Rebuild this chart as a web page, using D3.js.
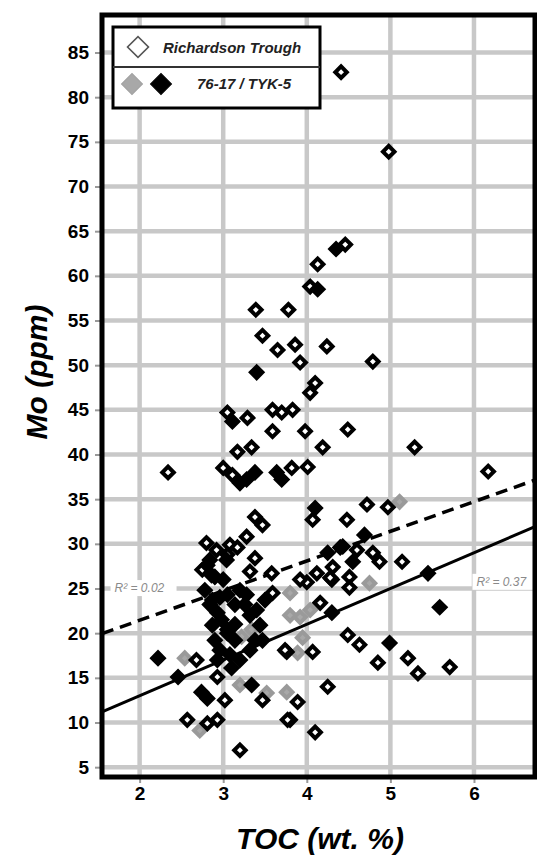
<!DOCTYPE html>
<html>
<head>
<meta charset="utf-8">
<script src="https://cdn.jsdelivr.net/npm/d3@7"></script>
<style>
body { margin: 0; background: #fff; }
svg text { font-family: "Liberation Sans", Arial, sans-serif; }
</style>
</head>
<body>
<div id="chart"></div>
<script>
// Tick values
var xTicks = [2, 3, 4, 5, 6];
var yTicks = [5, 10, 15, 20, 25, 30, 35, 40, 45, 50, 55, 60, 65, 70, 75, 80, 85];

// Richardson Trough (open diamonds) [TOC, Mo]
var richardson = [
  [4.41, 82.8], [4.98, 73.9], [4.46, 63.5], [4.13, 61.3], [4.04, 58.8], [3.39, 56.2], [3.78, 56.2],
  [3.47, 53.3], [3.65, 51.7], [3.86, 52.3], [3.92, 50.3], [4.24, 52.1], [4.79, 50.4], [4.10, 48.0],
  [4.04, 46.9], [3.05, 44.7], [3.29, 44.1], [3.59, 45.0], [3.70, 44.7], [3.83, 45.0], [3.59, 42.6],
  [3.98, 42.6], [4.19, 40.8], [4.49, 42.8], [5.29, 40.8], [3.17, 40.3], [3.34, 40.8], [2.34, 38.0],
  [3.00, 38.5], [3.11, 37.7], [3.82, 38.5], [4.01, 38.6], [6.17, 38.1], [3.38, 33.0], [3.47, 32.1],
  [4.07, 32.7], [4.48, 32.7], [4.72, 34.4], [4.97, 34.1], [3.28, 30.8], [4.40, 29.6], [4.79, 29.0],
  [4.60, 29.3], [4.87, 28.0], [5.14, 28.0], [4.30, 26.0], [4.51, 26.3], [4.51, 25.1], [4.00, 25.7],
  [4.16, 23.4], [4.49, 19.8], [4.63, 18.7], [4.85, 16.7], [5.21, 17.2], [5.33, 15.5], [5.71, 16.2],
  [4.07, 17.9], [3.76, 17.9], [4.25, 14.0], [3.89, 12.3], [3.80, 10.3], [4.10, 8.9], [2.68, 17.0],
  [2.57, 10.3], [2.93, 15.1], [3.02, 12.5], [2.93, 10.3], [2.81, 9.9], [3.20, 6.9], [3.47, 12.5],
  [3.77, 10.3], [3.59, 24.5], [3.58, 26.7], [3.92, 26.0], [3.74, 18.1], [4.28, 26.2], [4.31, 27.4],
  [4.12, 26.7], [2.90, 26.3], [2.75, 27.1], [2.80, 30.1], [2.92, 29.3], [3.08, 29.9], [3.05, 28.8],
  [3.17, 29.6], [3.38, 28.4], [3.32, 26.9]
];

// 76-17 (grey diamonds) [TOC, Mo]
var well7617 = [
  [5.11, 34.7], [4.75, 25.6], [4.04, 22.6], [3.95, 19.5], [3.89, 17.8], [3.76, 13.4], [2.54, 17.2],
  [2.72, 9.1], [3.20, 14.2], [3.52, 13.3], [3.34, 20.4], [3.22, 19.6], [3.80, 24.5], [3.80, 22.0],
  [3.92, 21.8]
];

// TYK-5 (black diamonds) [TOC, Mo]
var tyk5 = [
  [4.35, 63.0], [4.13, 58.5], [3.40, 49.2], [3.20, 36.8], [3.28, 37.2], [3.38, 38.0], [3.64, 38.0],
  [3.70, 37.2], [4.10, 34.0], [4.69, 31.0], [4.43, 29.7], [4.25, 29.0], [4.55, 28.0], [5.45, 26.7],
  [5.59, 22.9], [4.30, 22.3], [4.99, 18.9], [2.22, 17.2], [2.46, 15.1], [2.74, 13.4], [2.81, 12.7],
  [3.34, 14.2], [2.87, 23.7], [2.93, 22.3], [2.87, 20.9], [2.90, 19.2], [2.96, 18.1], [3.08, 17.6],
  [3.20, 17.0], [3.32, 18.1], [3.14, 19.2], [3.20, 24.8], [3.26, 23.2], [3.32, 22.0], [3.40, 22.6],
  [3.47, 19.2], [3.11, 43.7], [3.04, 28.2], [2.84, 28.2], [3.00, 26.0], [3.14, 21.0], [3.05, 20.0],
  [2.96, 24.0], [2.81, 27.6], [2.86, 26.5], [2.78, 24.8], [2.84, 23.2], [2.98, 21.5], [3.05, 20.4],
  [2.93, 17.0], [3.10, 16.1], [3.38, 19.2], [3.44, 20.9], [3.50, 23.7], [3.28, 24.3], [3.14, 23.2],
  [3.05, 24.3]
];

// Regression fits: [slope, intercept, label]
var fitAll = [3.32, 14.8, "R\u00b2 = 0.02"];
var fitTyk = [4.0, 5.0, "R\u00b2 = 0.37"];

var svg = d3.select("#chart")
    .append("svg")
    .attr("width", 537)
    .attr("height", 859);

var xScale = d3.scaleLinear().domain([1.55, 6.73]).range([102, 535]);
var yScale = d3.scaleLinear().domain([3.9, 89.2]).range([777, 15]);

svg.append("clipPath").attr("id", "plotclip")
    .append("rect")
    .attr("x", 102).attr("y", 15).attr("width", 433).attr("height", 762);

// grid
svg.append("g").selectAll("line")
    .data(yTicks).enter().append("line")
    .attr("x1", xScale.range()[0]).attr("x2", xScale.range()[1])
    .attr("y1", d => yScale(d)).attr("y2", d => yScale(d))
    .style("stroke", "#c8c8c8").style("stroke-width", 4.5);
svg.append("g").selectAll("line")
    .data(xTicks).enter().append("line")
    .attr("y1", yScale.range()[0]).attr("y2", yScale.range()[1])
    .attr("x1", d => xScale(d)).attr("x2", d => xScale(d))
    .style("stroke", "#c8c8c8").style("stroke-width", 4.5);

// axes
var yAxis = d3.axisLeft(yScale).tickValues(yTicks).tickSize(7).tickPadding(6)
    .tickFormat(d3.format("d"));
var xAxis = d3.axisBottom(xScale).tickValues(xTicks).tickSize(6).tickPadding(4)
    .tickFormat(d3.format("d"));

var gy = svg.append("g").attr("transform", "translate(102,0)").call(yAxis);
var gx = svg.append("g").attr("transform", "translate(0,777)").call(xAxis);
[gy, gx].forEach(function(g) {
    g.select(".domain").remove();
    g.selectAll(".tick line").style("stroke", "#999").style("stroke-width", 2);
    g.selectAll(".tick text")
        .style("font-size", "19px").style("font-weight", "900").style("fill", "#000");
});

// regression lines
var line = d3.line().x(d => xScale(d[0])).y(d => yScale(d[1]));
function fitPts(f) {
    return xScale.domain().map(x => [x, f[0] * x + f[1]]);
}
var gl = svg.append("g").attr("clip-path", "url(#plotclip)");
gl.append("path").attr("d", line(fitPts(fitAll)))
    .style("fill", "none").style("stroke", "#000").style("stroke-width", 3.5)
    .style("stroke-dasharray", "12,7");
gl.append("path").attr("d", line(fitPts(fitTyk)))
    .style("fill", "none").style("stroke", "#000").style("stroke-width", 3);

// R2 labels
function r2label(x, y, w, txt) {
    svg.append("rect").attr("x", x - 4).attr("y", y - 12).attr("width", w).attr("height", 16)
        .style("fill", "#fff");
    svg.append("text").attr("x", x).attr("y", y).text(txt)
        .style("font-size", "12px").style("font-style", "italic").style("fill", "#8a8a8a");
}
r2label(xScale(1.7), yScale(24.6), 66, fitAll[2]);
r2label(xScale(6.03), yScale(25.3), 66, fitTyk[2]);

// points
var diamond = d3.symbol().type(d3.symbolSquare).size(66);
var gp = svg.append("g").attr("clip-path", "url(#plotclip)");
function drawPts(data, fill, stroke) {
    gp.append("g").selectAll("path")
        .data(data).enter().append("path")
        .attr("d", diamond)
        .attr("transform", d => "translate(" + xScale(d[0]) + "," + yScale(d[1]) + ") rotate(45)")
        .style("fill", fill).style("stroke", stroke).style("stroke-width", 4);
}
drawPts(well7617, "#a8a8a8", "#9a9a9a");
drawPts(richardson, "#fff", "#000");
drawPts(tyk5, "#000", "#000");

// frame
svg.append("rect")
    .attr("x", 102).attr("y", 15).attr("width", 433).attr("height", 762)
    .style("fill", "none").style("stroke", "#000").style("stroke-width", 5);

// legend
var lg = svg.append("g");
lg.append("rect").attr("x", 113).attr("y", 27).attr("width", 207).attr("height", 81)
    .style("fill", "#fff").style("stroke", "#000").style("stroke-width", 3);
lg.append("line").attr("x1", 113).attr("x2", 320).attr("y1", 67).attr("y2", 67)
    .style("stroke", "#333").style("stroke-width", 2);
var legSym = d3.symbol().type(d3.symbolSquare).size(220);
lg.append("path").attr("d", legSym).attr("transform", "translate(138,47) rotate(45)")
    .style("fill", "#fff").style("stroke", "#555").style("stroke-width", 1.6);
lg.append("path").attr("d", legSym).attr("transform", "translate(132,84) rotate(45)")
    .style("fill", "#a8a8a8").style("stroke", "#a0a0a0").style("stroke-width", 1);
lg.append("path").attr("d", legSym).attr("transform", "translate(161,84) rotate(45)")
    .style("fill", "#000").style("stroke", "#000").style("stroke-width", 1);
lg.append("text").attr("x", 163).attr("y", 53).text("Richardson Trough")
    .style("font-size", "15px").style("font-weight", "bold").style("font-style", "italic").style("fill", "#222");
lg.append("text").attr("x", 197).attr("y", 89).text("76-17 / TYK-5")
    .style("font-size", "15px").style("font-weight", "bold").style("font-style", "italic").style("fill", "#222");

// axis titles
svg.append("text").attr("x", 320).attr("y", 849).attr("text-anchor", "middle")
    .text("TOC (wt. %)")
    .style("font-size", "30px").style("font-weight", "bold").style("font-style", "italic");
svg.append("text").attr("transform", "translate(47,372) rotate(-90)").attr("text-anchor", "middle")
    .text("Mo (ppm)")
    .style("font-size", "30px").style("font-weight", "bold").style("font-style", "italic");
</script>
</body>
</html>
